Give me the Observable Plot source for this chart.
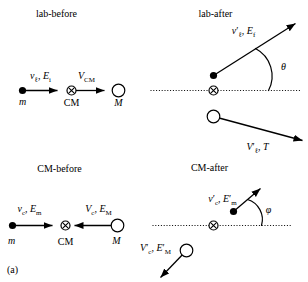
<!DOCTYPE html>
<html><head><meta charset="utf-8">
<script src="https://cdn.jsdelivr.net/npm/d3@7"></script>
<script src="https://cdn.jsdelivr.net/npm/@observablehq/plot@0.6"></script>
<style>
body{margin:0;background:#fff}
svg text, svg tspan{font-family:"Liberation Serif","Times New Roman",serif !important;}
</style>
</head><body><div id="chart"></div>
<script>
// diagram geometry (in a 308 x 282 coordinate space, y downward)
const particles = [{x:22,y:90},{x:213,y:75},{x:12,y:225},{x:233,y:211}];
const targets = [{x:118,y:90},{x:213,y:116},{x:117,y:225},{x:186,y:250}];
const centers = [{x:71,y:90},{x:213,y:90},{x:65,y:225},{x:213,y:225}];
const arrows = [
  {x1:22,y1:90,x2:57,y2:90},
  {x1:75,y1:90,x2:104,y2:90},
  {x1:213,y1:75,x2:295,y2:23},
  {x1:213,y1:116,x2:302,y2:140},
  {x1:12,y1:225,x2:52,y2:225},
  {x1:117,y1:225,x2:74,y2:225},
  {x1:233,y1:211,x2:260,y2:188},
  {x1:186,y1:250,x2:160,y2:277}
];
const axes = [{x1:150,y1:90,x2:301,y2:90},{x1:152,y1:225,x2:292,y2:225}];
const arcs = [{x1:255,y1:48,x2:268,y2:90},{x1:247,y1:199,x2:261,y2:225}];
const labels = [
  {x:56,y:13,t:"lab-before"},
  {x:215,y:13,t:"lab-after"},
  {x:59,y:168,t:"CM-before"},
  {x:209,y:167,t:"CM-after"},
  {x:40,y:75,t:"*v*_{ℓ}, *E*_{i}"},
  {x:86,y:75,t:"*V*_{CM}"},
  {x:22,y:101,t:"*m*"},
  {x:71,y:102,t:"CM"},
  {x:118,y:102,t:"*M*"},
  {x:243,y:30,t:"*v*′_{ℓ}, *E*_{f}"},
  {x:283,y:66,t:"*θ*"},
  {x:257,y:146,t:"*V*′_{ℓ}, *T*"},
  {x:29,y:208,t:"*v*_{c}, *E*_{m}"},
  {x:98,y:208,t:"*V*_{c}, *E*_{M}"},
  {x:11,y:240,t:"*m*"},
  {x:65,y:241,t:"CM"},
  {x:116,y:240,t:"*M*"},
  {x:222,y:198,t:"*v*′_{c}, *E*′_{m}"},
  {x:268,y:209,t:"*φ*"},
  {x:155,y:247,t:"*V*′_{c}, *E*′_{M}"},
  {x:12,y:269,t:"(a)"}
];

const font = "Liberation Serif";
const svg = Plot.plot({
  width: 308, height: 282, margin: 0,
  style: {background: "white"},
  x: {domain: [0, 308], range: [0, 308], axis: null},
  y: {domain: [0, 282], range: [0, 282], axis: null},
  marks: [
    Plot.link(axes, {x1:"x1", y1:"y1", x2:"x2", y2:"y2", stroke:"black", strokeWidth:1, strokeDasharray:"1,1.8"}),
    Plot.link(arrows, {x1:"x1", y1:"y1", x2:"x2", y2:"y2", stroke:"black", strokeWidth:1.3, markerEnd:"arrow"}),
    Plot.arrow(arcs, {x1:"x1", y1:"y1", x2:"x2", y2:"y2", bend:45, headLength:0, stroke:"black", strokeWidth:1.2}),
    Plot.dot(particles, {x:"x", y:"y", r:3.6, fill:"black", stroke:"none"}),
    Plot.dot(targets, {x:"x", y:"y", r:6.3, fill:"white", stroke:"black", strokeWidth:1.2}),
    Plot.dot(centers, {x:"x", y:"y", r:4.5, fill:"white", stroke:"black", strokeWidth:1.2}),
    Plot.dot(centers, {x:"x", y:"y", r:3, symbol:"times", stroke:"black", strokeWidth:1.1}),
    Plot.text(labels, {x:"x", y:"y", text:"t", fontSize:10, fontFamily:font, fill:"black"})
  ]
});
document.getElementById("chart").appendChild(svg);

// turn Plot's open arrow markers into filled arrowheads
const sel = d3.select(svg);
sel.selectAll("marker").each(function(){
  const m = d3.select(this);
  m.attr("viewBox","-9 -4 10 8").attr("refX",0).attr("refY",0)
   .attr("markerWidth",10).attr("markerHeight",8).attr("markerUnits","userSpaceOnUse")
   .attr("orient","auto").attr("fill","black").attr("stroke","none");
  m.selectAll("*").remove();
  m.append("path").attr("d","M-9,-3.5L0,0L-9,3.5Z").attr("fill","black").attr("stroke","none");
});

// rich text (italic + subscripts)
function runs(s){
  const out=[]; let it=false, lvl=0, buf="";
  const flush=()=>{ if(buf){ out.push({t:buf,it,lvl}); buf=""; } };
  for(let i=0;i<s.length;i++){
    const c=s[i];
    if(c==="*"){ flush(); it=!it; }
    else if(c==="_" && s[i+1]==="{"){ flush(); lvl=-1; i++; }
    else if(c==="}"){ flush(); lvl=0; }
    else buf+=c;
  }
  flush(); return out;
}
sel.selectAll("text").each(function(){
  const s=this.textContent; this.textContent="";
  d3.select(this).attr("font-family", font);
  let cur=0;
  for(const r of runs(s)){
    const ts=d3.select(this).append("tspan").text(r.t);
    if(r.it) ts.attr("font-style","italic");
    const target = r.lvl<0 ? 3 : 0;
    if(r.lvl<0) ts.attr("font-size",7);
    if(target!==cur){ ts.attr("dy", target-cur); cur=target; }
  }
});
</script></body></html>
